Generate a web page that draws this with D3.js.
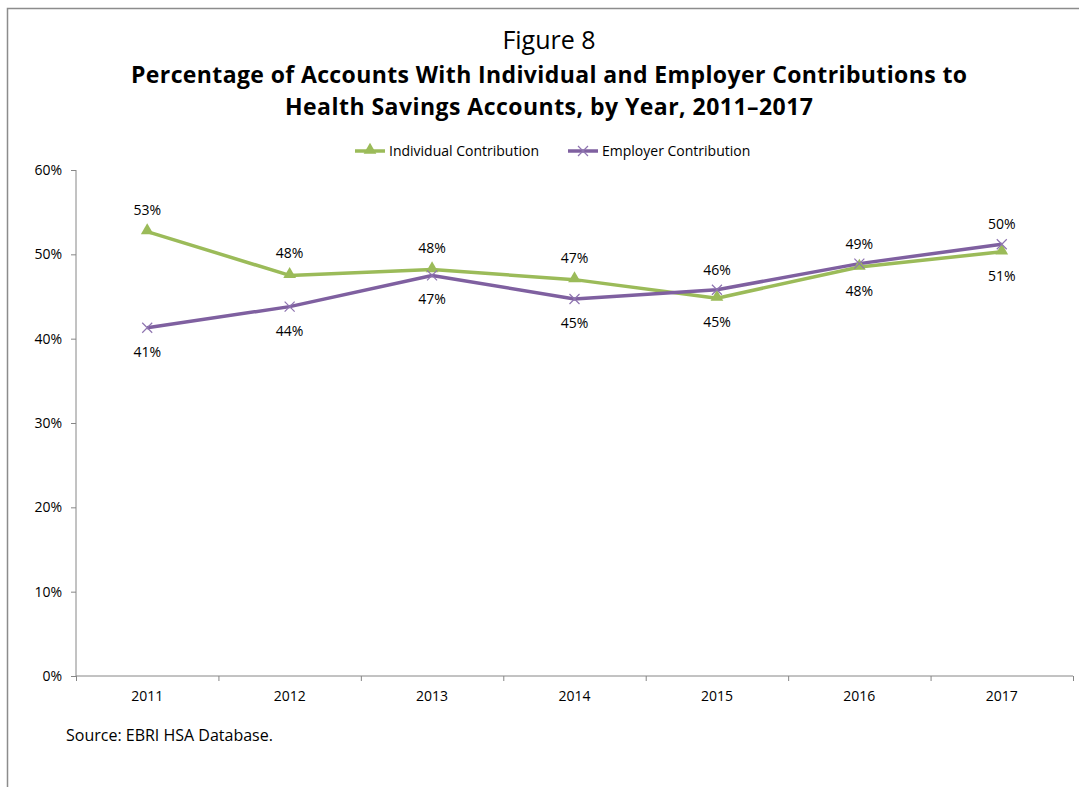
<!DOCTYPE html>
<html>
<head>
<meta charset="utf-8">
<script src="https://cdn.jsdelivr.net/npm/d3@7"></script>
<style>
    body { margin: 0; background: #fff; }
    text { font-family: "Open Sans", sans-serif; fill: #000; }
</style>
</head>
<body>
<div id="container"></div>
<script>
// chart data
const years = ["2011", "2012", "2013", "2014", "2015", "2016", "2017"];
const individual = [0.527, 0.475, 0.482, 0.470, 0.448, 0.485, 0.503];
const employer = [0.413, 0.438, 0.475, 0.447, 0.458, 0.489, 0.512];
const individualLabels = ["53%", "48%", "48%", "47%", "45%", "48%", "51%"];
const employerLabels = ["41%", "44%", "47%", "45%", "46%", "49%", "50%"];
const yTicks = [0, 0.1, 0.2, 0.3, 0.4, 0.5, 0.6];

const w = 1079; // canvas width
const h = 787; // canvas height
const green = "#9bbb59";
const purple = "#7f60a0";

const svg = d3
    .select("#container")
    .append("svg")
    .attr("width", w)
    .attr("height", h)

// frame of the figure
svg.append("path")
    .attr("d", `M7.5,${h} V8.5 H${w}`)
    .attr("fill", "none")
    .attr("stroke", "#8c8c8c")
    .attr("stroke-width", 1.5)

// titles
svg.append("text")
    .attr("x", 549)
    .attr("y", 49)
    .attr("text-anchor", "middle")
    .style("font-size", "25px")
    .text("Figure 8")

const titleLines = ["Percentage of Accounts With Individual and Employer Contributions to", "Health Savings Accounts, by Year, 2011–2017"];
const titleWidths = [836, 528];
svg.selectAll(".title")
    .data(titleLines)
    .enter().append("text")
    .attr("class", "title")
    .attr("x", 549)
    .attr("y", (d, i) => 83 + i * 32)
    .attr("text-anchor", "middle")
    .attr("textLength", (d, i) => titleWidths[i])
    .attr("lengthAdjust", "spacing")
    .style("font-size", "23px")
    .style("font-weight", "bold")
    .text((d) => d)

// scales
const x = d3.scaleBand()
    .domain(years)
    .range([76, 1073])

const xEdge = d3.scaleLinear()
    .domain([0, years.length])
    .range([76, 1073])

const y = d3.scaleLinear()
    .domain([0, 0.6])
    .range([676, 170])

// axes
const yAxis = svg.append("g")
    .attr("transform", "translate(76,0)")
    .call(d3.axisLeft(y).tickValues(yTicks).tickFormat(d3.format(".0%")).tickSize(5).tickPadding(9))
yAxis.select(".domain").attr("stroke", "#868686").attr("d", "M0,170V676")
yAxis.selectAll("line").attr("stroke", "#868686")
yAxis.selectAll("text").style("font-size", "14px").attr("font-family", null)

const xTicks = svg.append("g")
    .attr("transform", "translate(0,676)")
    .call(d3.axisBottom(xEdge).tickValues(d3.range(years.length + 1)).tickFormat("").tickSize(5))
xTicks.select(".domain").attr("stroke", "#868686").attr("d", "M76,0H1073")
xTicks.selectAll("line").attr("stroke", "#868686")

const xLabels = svg.append("g")
    .attr("transform", "translate(0,676)")
    .call(d3.axisBottom(x).tickSize(0).tickPadding(15))
xLabels.select(".domain").remove()
xLabels.selectAll("text").style("font-size", "14px").attr("font-family", null)

// lines
const line = d3.line()
    .x((d, i) => x(years[i]) + x.bandwidth() / 2)
    .y((d) => y(d))

svg.append("path")
    .datum(individual)
    .attr("d", line)
    .attr("fill", "none")
    .attr("stroke", green)
    .attr("stroke-width", 3.5)
    .attr("stroke-linejoin", "round")

svg.append("path")
    .datum(employer)
    .attr("d", line)
    .attr("fill", "none")
    .attr("stroke", purple)
    .attr("stroke-width", 3.5)
    .attr("stroke-linejoin", "round")

// markers
const triangle = d3.symbol().type(d3.symbolTriangle).size(70)
const cross = "M-5,-5L5,5M-5,5L5,-5"

svg.selectAll(".tri")
    .data(individual)
    .enter().append("path")
    .attr("class", "tri")
    .attr("d", triangle)
    .attr("transform", (d, i) => `translate(${x(years[i]) + x.bandwidth() / 2},${y(d) - 1})`)
    .attr("fill", green)

svg.selectAll(".cross")
    .data(employer)
    .enter().append("path")
    .attr("class", "cross")
    .attr("d", cross)
    .attr("transform", (d, i) => `translate(${x(years[i]) + x.bandwidth() / 2},${y(d)})`)
    .attr("fill", "none")
    .attr("stroke", "#8e74b0")
    .attr("stroke-width", 1.2)

// data labels: individual above for 2011-2014, below afterwards; employer the other way
svg.selectAll(".ilabel")
    .data(individual)
    .enter().append("text")
    .attr("class", "ilabel")
    .attr("x", (d, i) => x(years[i]) + x.bandwidth() / 2)
    .attr("y", (d, i) => i < 4 ? y(d) - 17 : y(d) + 29)
    .attr("text-anchor", "middle")
    .style("font-size", "14px")
    .text((d, i) => individualLabels[i])

svg.selectAll(".elabel")
    .data(employer)
    .enter().append("text")
    .attr("class", "elabel")
    .attr("x", (d, i) => x(years[i]) + x.bandwidth() / 2)
    .attr("y", (d, i) => i < 4 ? y(d) + 29 : y(d) - 15)
    .attr("text-anchor", "middle")
    .style("font-size", "14px")
    .text((d, i) => employerLabels[i])

// legend
const legendItems = [
    {name: "Individual Contribution", color: green, x: 355},
    {name: "Employer Contribution", color: purple, x: 568}
];
const legend = svg.selectAll(".legend")
    .data(legendItems)
    .enter().append("g")
    .attr("class", "legend")
    .attr("transform", (d) => `translate(${d.x},151)`)

legend.append("line")
    .attr("x1", 0)
    .attr("x2", 30)
    .attr("stroke", (d) => d.color)
    .attr("stroke-width", 3.5)

legend.append("path")
    .attr("d", (d, i) => i == 0 ? triangle() : cross)
    .attr("transform", (d, i) => i == 0 ? "translate(15,-1)" : "translate(15,0)")
    .attr("fill", (d, i) => i == 0 ? green : "none")
    .attr("stroke", (d, i) => i == 0 ? "none" : "#8e74b0")
    .attr("stroke-width", 1.2)

legend.append("text")
    .attr("x", 34)
    .attr("y", 5)
    .style("font-size", "14px")
    .text((d) => d.name)

// source note
svg.append("text")
    .attr("x", 66)
    .attr("y", 741)
    .style("font-size", "16px")
    .text("Source: EBRI HSA Database.")
</script>
</body>
</html>
